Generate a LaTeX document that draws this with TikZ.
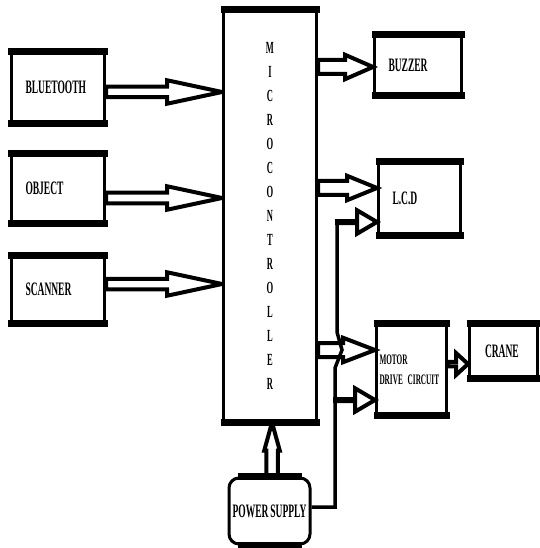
\documentclass[tikz,border=0pt]{standalone}
\usepackage{fontspec}
\newfontfamily\blkfont{Liberation Serif}[FakeStretch=0.5, WordSpace=0.8]
\usetikzlibrary{calc}

\begin{document}
\begin{tikzpicture}[x=1bp, y=-1bp,
    band/.style={draw, line width=7bp, shorten <=#1, shorten >=#1},
    banded/.style={append after command={
        (\tikzlastnode.north west) edge[band=#1] (\tikzlastnode.north east)
        (\tikzlastnode.south west) edge[band=#1] (\tikzlastnode.south east)}},
    banded/.default=-1.5bp,
    blk/.style={draw, line width=3bp, inner xsep=14bp, align=left,
      font=\blkfont\bfseries\fontsize{19bp}{21bp}\selectfont},
    hollow/.style n args={3}{draw, line width=4bp, line join=miter, miter limit=3,
      to path={
        ($(\tikztostart)!#1!90:(\tikztotarget)$)
        -- ($(\tikztotarget)!#3!(\tikztostart)!#1!90:(\tikztotarget)$)
        -- ($(\tikztotarget)!#3!(\tikztostart)!#2!90:(\tikztotarget)$)
        -- (\tikztotarget)
        -- ($(\tikztotarget)!#3!(\tikztostart)!#2!-90:(\tikztotarget)$)
        -- ($(\tikztotarget)!#3!(\tikztostart)!#1!-90:(\tikztotarget)$)
        -- ($(\tikztostart)!#1!-90:(\tikztotarget)$) -- cycle}},
    wire/.style={draw, line width=3.5bp, line join=miter}]
  \useasboundingbox (0,0) rectangle (540,548);

  % inputs
  \node[blk, banded, text width=65bp, minimum height=69bp] (bt) at (58,87.5) {BLUETOOTH};
  \node[blk, banded, text width=65bp, minimum height=66bp] (ob) at (58,188.5) {OBJECT};
  \node[blk, banded, text width=65bp, minimum height=65bp] (sc) at (58,289) {SCANNER};

  % controller
  \node[blk, banded, align=center, inner xsep=0pt, text width=93bp, minimum height=410bp,
    font=\blkfont\bfseries\fontsize{17bp}{24bp}\selectfont] (mc) at (270,216)
    {M\\I\\C\\R\\O\\C\\O\\N\\T\\R\\O\\L\\L\\E\\R};

  % outputs
  \node[blk, banded, text width=59bp, minimum height=58bp] (bz) at (418,65) {BUZZER};
  \node[blk, banded, text width=54bp, minimum height=71bp] (lcd) at (419.5,198.5) {L.C.D};
  \node[blk, banded, inner xsep=3bp, text width=64bp, minimum height=89bp,
    font=\blkfont\bfseries\fontsize{14.5bp}{20bp}\selectfont] (mtr) at (411.5,369.5)
    {MOTOR\\DRIVE CIRCUIT};
  \node[blk, banded, inner xsep=15.5bp, text width=36.5bp, minimum height=52bp] (cr) at (503.25,351) {CRANE};
  \node[blk, banded=10bp, rounded corners=10bp, inner xsep=2bp, minimum width=81bp, align=center,
    minimum height=66bp] (ps) at (269.5,511) {POWER SUPPLY};

  % input arrows
  \draw[hollow={5.25bp}{11.75bp}{55bp}] ([yshift=-4.5bp]bt.east) to ([yshift=-4.5bp]bt.east -| mc.west);
  \draw[hollow={5.25bp}{11.75bp}{55bp}] ([yshift=-9.5bp]ob.east) to ([yshift=-9.5bp]ob.east -| mc.west);
  \draw[hollow={5.25bp}{11.75bp}{55bp}] ([yshift=5bp]sc.east) to ([yshift=5bp]sc.east -| mc.west);

  % output arrows
  \draw[hollow={7bp}{12.25bp}{28bp}] ([yshift=-2bp]bz.west -| mc.east) to ([yshift=-2bp]bz.west);
  \draw[hollow={7bp}{12.25bp}{30bp}] ([yshift=10.5bp]lcd.west -| mc.east) to ([yshift=10.5bp]lcd.west);
  \draw[hollow={7bp}{12.25bp}{32bp}] ([yshift=19.5bp]mtr.west -| mc.east) to ([yshift=19.5bp]mtr.west);
  \draw[hollow={2.25bp}{11bp}{12bp}] ([yshift=5.5bp]mtr.east) to ([yshift=5.5bp]mtr.east -| cr.west);

  % supply
  \draw[hollow={5.75bp}{7.75bp}{28bp}] ([xshift=2.5bp]ps.north) to ([xshift=2.5bp]ps.north |- mc.south);
  \coordinate (mtap) at (335,400);
  \coordinate (ltap) at (337,222);
  \draw[wire] ([yshift=4bp]ps.east) -| (mtap) -- (335,368) -- (342,350) -- (337,332) -- (ltap);
  \draw[hollow={1bp}{11.75bp}{20bp}] (ltap) to (ltap -| lcd.west);
  \draw[hollow={1bp}{11.75bp}{20bp}] (mtap) to (mtap -| mtr.west);
\end{tikzpicture}
\end{document}
